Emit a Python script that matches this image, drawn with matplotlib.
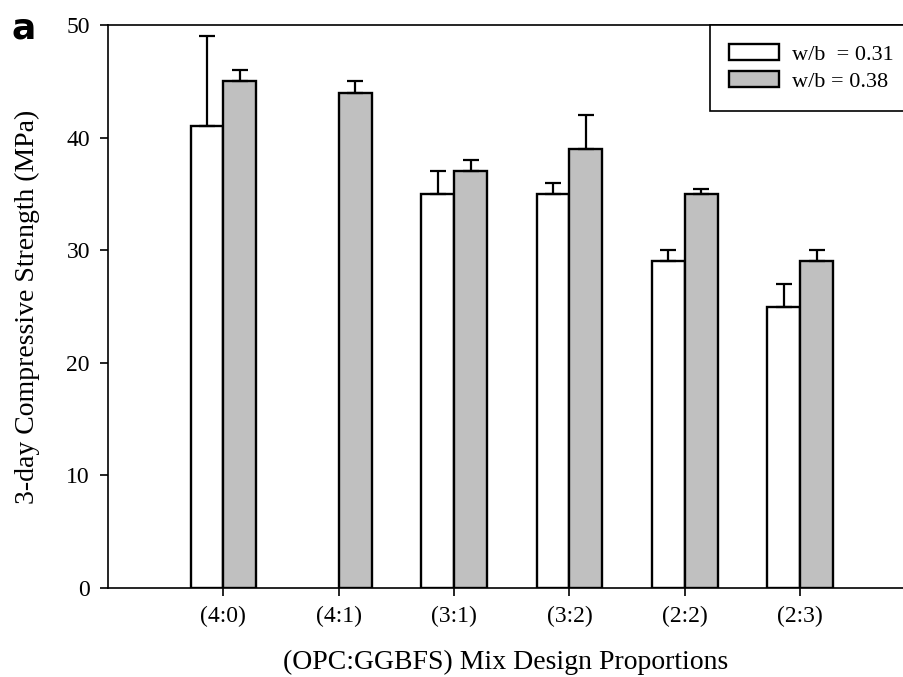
import matplotlib.pyplot as plt
import numpy as np

# mix proportions and strengths
mixes = ["(4:0)", "(4:1)", "(3:1)", "(3:2)", "(2:2)", "(2:3)"]
strength_031 = [41, 0, 35, 35, 29, 25]
err_031 = [8, 0, 2, 1, 1, 2]
strength_038 = [45, 44, 37, 39, 35, 29]
err_038 = [1, 1, 1, 3, 0.4, 1]
legend_names = ["w/b  = 0.31", "w/b = 0.38"]


def main() -> None:
    plt.rcParams['font.family'] = 'Liberation Serif'
    plt.rcParams['font.size'] = 16

    fig = plt.figure(figsize=(9.04, 6.77), dpi=100)
    ax = fig.add_axes([0.1195, 0.1315, 0.8805, 0.8315])

    x = np.arange(len(mixes))
    w = 0.285

    # white bars (skip the missing one)
    mask = np.array(strength_031) > 0
    ebar = dict(ecolor="black", elinewidth=1.6, capsize=6, capthick=1.6)
    ax.bar(x[mask] - w / 2, np.array(strength_031)[mask], w, color="white",
           edgecolor="black", linewidth=1.7, label=legend_names[0],
           yerr=[np.zeros(mask.sum()), np.array(err_031)[mask]], error_kw=ebar)
    ax.bar(x + w / 2, strength_038, w, color="#c0c0c0",
           edgecolor="black", linewidth=1.7, label=legend_names[1],
           yerr=[np.zeros(len(x)), err_038], error_kw=ebar)

    ax.set_xlim(-1, 5.9)
    ax.set_ylim(0, 50)
    ax.set_xticks(x)
    ax.set_xticklabels(mixes)
    ax.set_yticks(np.arange(0, 51, 10))
    ax.tick_params(direction='out', length=6, width=1.2, labelsize=17, pad=7)
    ax.spines['right'].set_visible(False)
    for s in ['left', 'top', 'bottom']:
        ax.spines[s].set_linewidth(1.2)

    ax.set_ylabel("3-day Compressive Strength (MPa)", fontsize=20, labelpad=19)
    ax.set_xlabel("(OPC:GGBFS) Mix Design Proportions", fontsize=20, labelpad=16)

    leg = ax.legend(loc="upper left", bbox_to_anchor=(0.756, 1.0), fontsize=16,
                    fancybox=False, framealpha=1, edgecolor="black",
                    handlelength=2.25, handleheight=0.72, handletextpad=0.6,
                    labelspacing=0.3, borderpad=0.85, borderaxespad=0)
    leg.get_frame().set_linewidth(1.2)

    fig.text(0.013, 0.943, "a", fontsize=26, fontweight="bold",
             family="DejaVu Sans")

    fig.savefig("out.png", dpi=100)


if __name__ == "__main__":
    main()
